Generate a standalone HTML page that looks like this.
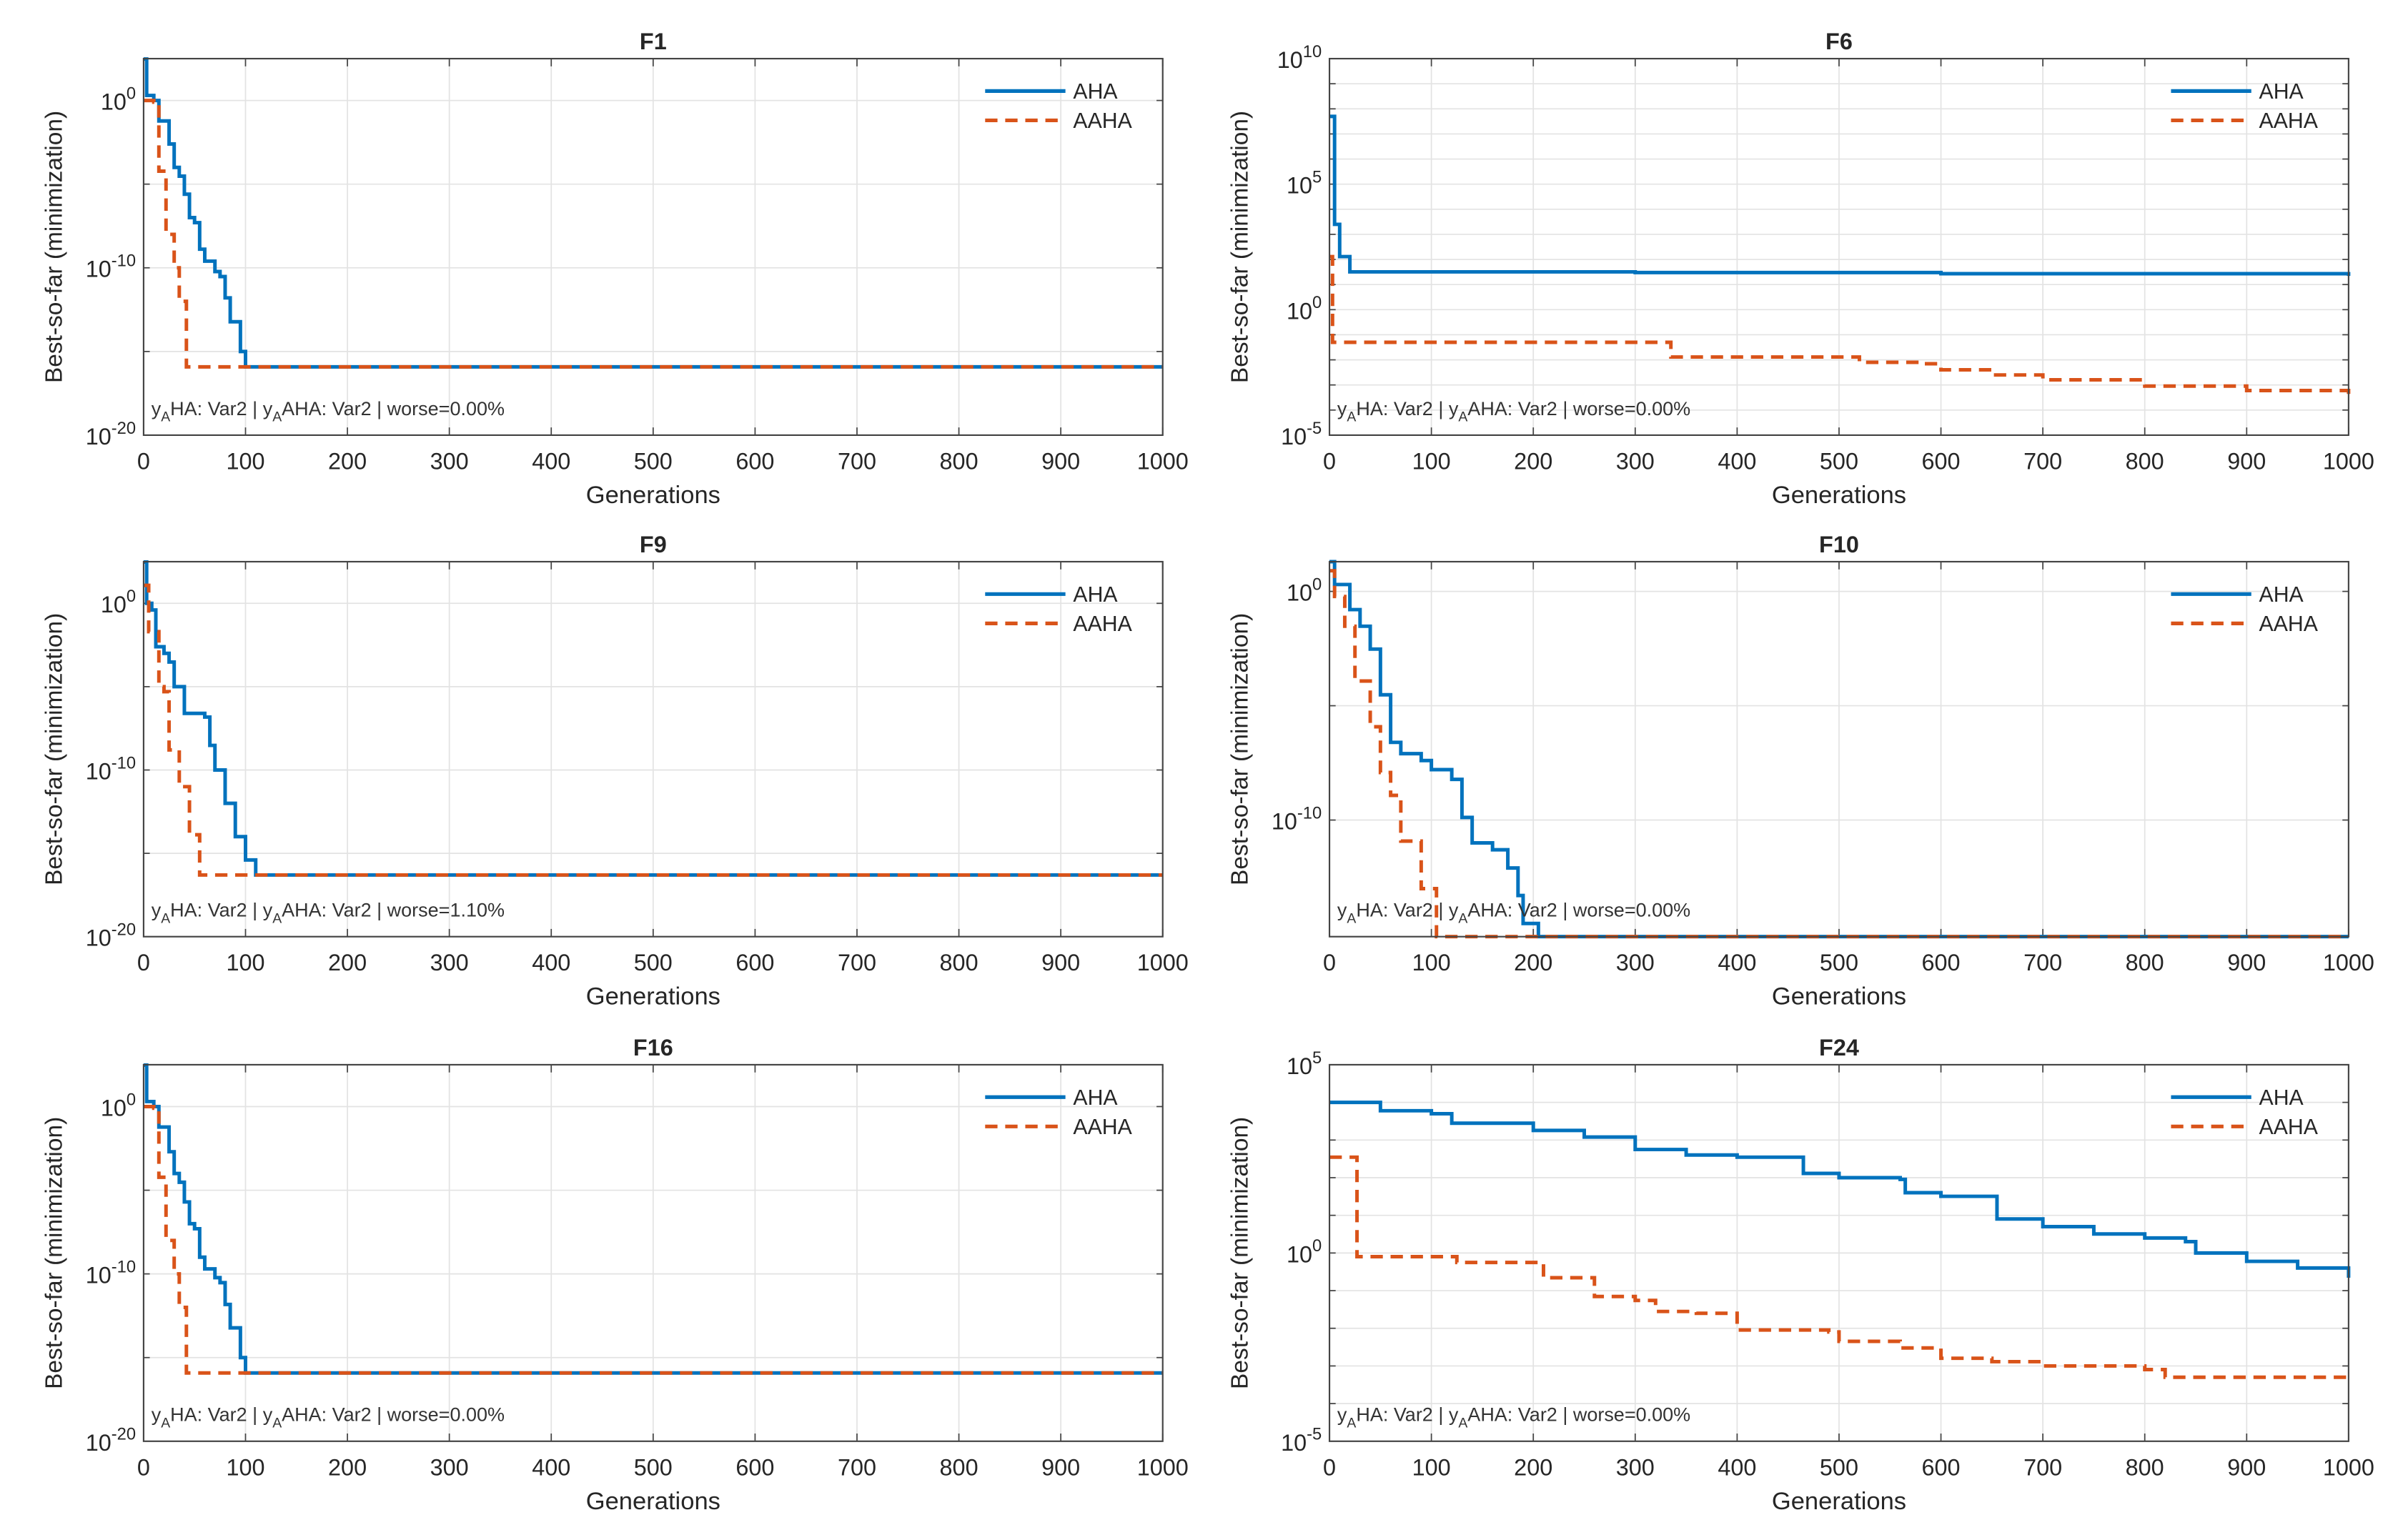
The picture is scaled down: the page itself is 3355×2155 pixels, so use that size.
<!DOCTYPE html>
<html><head><meta charset="utf-8"><style>
html,body{margin:0;padding:0;background:#fff;}
svg{display:block;}
text{font-family:"Liberation Sans",sans-serif;fill:#262626;}
</style></head><body>
<svg id="fig" width="3355" height="2155" viewBox="0 0 1553 998" preserveAspectRatio="none" xmlns="http://www.w3.org/2000/svg"></svg>
<script>
const genTicks = [0,100,200,300,400,500,600,700,800,900,1000];
const f1AhaX = [0,3,10,15,25,30,35,40,45,50,55,60,70,75,80,85,95,100,1000];
const f1AhaV = [3e2,2,1,0.06,2.5e-3,1e-4,3e-5,2.5e-6,1e-7,5e-8,1.3e-9,2.5e-10,6e-11,3e-11,1.6e-12,6e-14,1e-15,1.2e-16,1.2e-16];
const f1AahaX = [0,10,15,22,30,35,42,1000];
const f1AahaV = [1,0.8,6e-5,1e-8,1e-10,1e-12,1.2e-16,1.2e-16];
const f6AhaX = [0,2,5,10,20,300,600,1000];
const f6AhaV = [5e7,5e7,2.5e3,1.3e2,32,30,27,22];
const f6AahaX = [0,3,335,520,580,600,650,700,800,900,1000];
const f6AahaV = [130,0.05,0.013,0.008,0.007,0.004,0.0025,0.0016,0.0009,0.0006,0.0004];
const f9AhaX = [0,3,8,12,20,25,30,40,60,65,70,80,90,100,110,1000];
const f9AhaV = [3e2,1,0.4,2.5e-3,1e-3,3e-4,1e-5,2.5e-7,1.5e-7,3e-9,1e-10,1e-12,1e-14,4e-16,5e-17,5e-17];
const f9AahaX = [0,5,15,20,25,35,45,55,1000];
const f9AahaV = [12,0.02,1e-5,5e-6,1.6e-9,1e-11,1.3e-14,5e-17,5e-17];
const f10AhaX = [0,5,15,20,30,40,50,60,70,90,100,120,130,140,160,175,185,190,205,1000];
const f10AhaV = [20,2,2,0.16,0.03,3e-3,3e-5,2.5e-7,8e-8,4e-8,1.6e-8,6e-9,1.3e-10,1e-11,5e-12,8e-13,5e-14,3e-15,8e-16,8e-16];
const f10AahaX = [0,5,15,25,40,50,60,70,90,105,1000];
const f10AahaV = [8,0.6,0.03,1.2e-4,1.2e-6,1.2e-8,1.2e-9,1.2e-11,1e-13,8e-16,8e-16];
const f16AhaX = [0,3,10,15,25,30,35,40,45,50,55,60,70,75,80,85,95,100,1000];
const f16AhaV = [3e2,2,1,0.06,2e-3,1e-4,3e-5,2e-6,1e-7,5e-8,1e-9,2e-10,6e-11,3e-11,1.5e-12,6e-14,1e-15,1.2e-16,1.2e-16];
const f16AahaX = [0,10,15,22,30,35,42,1000];
const f16AahaV = [1,0.8,6e-5,1e-8,1e-10,1e-12,1.2e-16,1.2e-16];
const f24AhaX = [0,50,100,120,200,250,300,350,400,460,465,500,560,565,600,650,655,700,750,800,840,850,900,950,1000];
const f24AhaV = [1e4,6e3,5e3,2.8e3,1.8e3,1.2e3,560,400,350,350,130,100,90,40,32,32,8,5,3.2,2.5,2,1,0.6,0.4,0.22];
const f24AahaX = [0,25,27,100,125,200,210,260,300,320,360,400,490,500,560,600,650,700,800,820,1000];
const f24AahaV = [350,350,0.8,0.8,0.56,0.56,0.22,0.07,0.055,0.028,0.025,0.009,0.008,0.0045,0.003,0.0016,0.0013,0.001,0.0008,0.0005,0.00045];

const panels = [
 {id:'f1', title:'F1', x0:93, x1:753, y0:38, y1:282, lmin:-20, lmax:2.5, major:[0,-10,-20], grid:[0,-5,-10,-15], ahaX:f1AhaX, ahaV:f1AhaV, aahaX:f1AahaX, aahaV:f1AahaV, note:'0.00%'},
 {id:'f6', title:'F6', x0:861, x1:1521, y0:38, y1:282, lmin:-5, lmax:10, major:[10,5,0,-5], grid:[9,8,7,6,5,4,3,2,1,0,-1,-2,-3,-4], ahaX:f6AhaX, ahaV:f6AhaV, aahaX:f6AahaX, aahaV:f6AahaV, note:'0.00%'},
 {id:'f9', title:'F9', x0:93, x1:753, y0:364, y1:607, lmin:-20, lmax:2.5, major:[0,-10,-20], grid:[0,-5,-10,-15], ahaX:f9AhaX, ahaV:f9AhaV, aahaX:f9AahaX, aahaV:f9AahaV, note:'1.10%'},
 {id:'f10', title:'F10', x0:861, x1:1521, y0:364, y1:607, lmin:-15.1, lmax:1.3, major:[0,-10], grid:[0,-5,-10], ahaX:f10AhaX, ahaV:f10AhaV, aahaX:f10AahaX, aahaV:f10AahaV, note:'0.00%'},
 {id:'f16', title:'F16', x0:93, x1:753, y0:690, y1:934, lmin:-20, lmax:2.5, major:[0,-10,-20], grid:[0,-5,-10,-15], ahaX:f16AhaX, ahaV:f16AhaV, aahaX:f16AahaX, aahaV:f16AahaV, note:'0.00%'},
 {id:'f24', title:'F24', x0:861, x1:1521, y0:690, y1:934, lmin:-5, lmax:5, major:[5,0,-5], grid:[4,3,2,1,0,-1,-2,-3,-4], ahaX:f24AhaX, ahaV:f24AhaV, aahaX:f24AahaX, aahaV:f24AahaV, note:'0.00%'}
];

const NS='http://www.w3.org/2000/svg';
const svg=document.getElementById('fig');
function mk(tag,attrs,parent){const e=document.createElementNS(NS,tag);for(const k in attrs)e.setAttribute(k,attrs[k]);(parent||svg).appendChild(e);return e;}

panels.forEach(p=>{
  const g=mk('g',{});
  
  
  const xs=v=>p.x0+(v/1000)*(p.x1-p.x0);
  const yl=l=>p.y1-(l-p.lmin)/(p.lmax-p.lmin)*(p.y1-p.y0);
  const ys=v=>yl(Math.log10(v));
  mk('rect',{x:p.x0,y:p.y0,width:p.x1-p.x0,height:p.y1-p.y0,fill:'#fff'},g);
  genTicks.forEach(t=>{
    const x=xs(t);
    if(t>0&&t<1000){
      const gl=mk('line',{x1:x,x2:x,y1:p.y0,y2:p.y1,stroke:'#e3e3e3','stroke-width':0.8},g);
      
      
    }
    mk('line',{x1:x,x2:x,y1:p.y1,y2:p.y1-5,stroke:'#444','stroke-width':0.8},g);
    mk('line',{x1:x,x2:x,y1:p.y0,y2:p.y0+5,stroke:'#444','stroke-width':0.8},g);
    const tl=mk('text',{x:x,y:p.y1+22,'font-size':15,'text-anchor':'middle'},g);
    tl.textContent=String(t);
    
    
  });
  p.grid.forEach(l=>{
    const y=yl(l);
    const gl=mk('line',{x1:p.x0,x2:p.x1,y1:y,y2:y,stroke:'#e3e3e3','stroke-width':0.8},g);
    
    
    mk('line',{x1:p.x0,x2:p.x0+4,y1:y,y2:y,stroke:'#444','stroke-width':0.8},g);
    mk('line',{x1:p.x1,x2:p.x1-4,y1:y,y2:y,stroke:'#444','stroke-width':0.8},g);
  });
  p.major.forEach(l=>{
    const y=yl(l);
    const t=mk('text',{x:p.x0-5,y:y+6,'font-size':15,'text-anchor':'end'},g);
    
    
    const a=document.createElementNS(NS,'tspan');a.textContent='10';t.appendChild(a);
    const b=document.createElementNS(NS,'tspan');b.setAttribute('dy','-7');b.setAttribute('font-size','11');b.textContent=String(l);t.appendChild(b);
  });
  const clipId='clip-'+p.id;
  const cp=mk('clipPath',{id:clipId},g);
  mk('rect',{x:p.x0-3,y:p.y0-3,width:p.x1-p.x0+6,height:p.y1-p.y0+6},cp);
  function stairs(X,V){let d='';for(let i=0;i<X.length;i++){const x=xs(X[i]),y=ys(V[i]);if(i===0)d+='M'+x+' '+y;else d+=' H'+x+' V'+y;}return d;}
  const la=mk('path',{d:stairs(p.ahaX,p.ahaV),fill:'none',stroke:'#0072BD','stroke-width':2.3,'clip-path':'url(#'+clipId+')'},g);
  
  
  const lb=mk('path',{d:stairs(p.aahaX,p.aahaV),fill:'none',stroke:'#D95319','stroke-width':2.3,'stroke-dasharray':'8 5','clip-path':'url(#'+clipId+')'},g);
  
  
  mk('rect',{x:p.x0,y:p.y0,width:p.x1-p.x0,height:p.y1-p.y0,fill:'none',stroke:'#444','stroke-width':1},g);
  const tt=mk('text',{x:(p.x0+p.x1)/2,y:p.y0-6,'font-size':15,'font-weight':'bold','text-anchor':'middle',fill:'#000'},g);
  tt.textContent=p.title;
  
  
  const xt=mk('text',{x:(p.x0+p.x1)/2,y:p.y1+44,'font-size':16,'text-anchor':'middle'},g);
  xt.textContent='Generations';
  
  
  const cy=(p.y0+p.y1)/2;
  const yx=p.x0-53;
  const yt=mk('text',{x:yx,y:cy,'font-size':15.5,'text-anchor':'middle',transform:'rotate(-90 '+yx+' '+cy+')'},g);
  yt.textContent='Best-so-far (minimization)';
  
  
  const lx=p.x0+545;
  mk('line',{x1:lx,x2:lx+52,y1:p.y0+21,y2:p.y0+21,stroke:'#0072BD','stroke-width':2.4},g);
  const l1=mk('text',{x:lx+57,y:p.y0+26,'font-size':14},g);
  l1.textContent='AHA';
  
  
  mk('line',{x1:lx,x2:lx+52,y1:p.y0+40,y2:p.y0+40,stroke:'#D95319','stroke-width':2.4,'stroke-dasharray':'8 5'},g);
  const l2=mk('text',{x:lx+57,y:p.y0+45,'font-size':14},g);
  l2.textContent='AAHA';
  
  
  const an=mk('text',{x:p.x0+5,y:p.y1-13,'font-size':12.5,fill:'#333'},g);
  
  
  const parts=[['y',0],['A',4],['HA: Var2 | y',-4],['A',4],['AHA: Var2 | worse='+p.note,-4]];
  parts.forEach(pt=>{
    const ts=document.createElementNS(NS,'tspan');
    ts.textContent=pt[0];
    if(pt[1])ts.setAttribute('dy',pt[1]);
    if(pt[0]==='A')ts.setAttribute('font-size','9');
    ts.setAttribute('fill','#333');
    an.appendChild(ts);
  });
});
</script>
</body></html>
